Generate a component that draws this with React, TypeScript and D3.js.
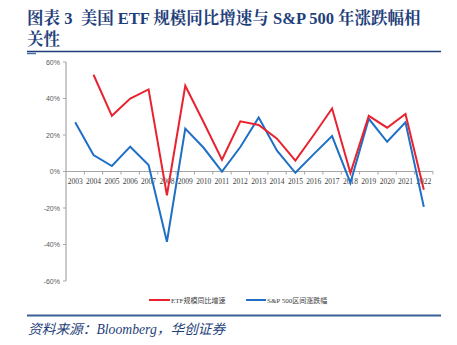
import React from "react";
import * as d3 from "d3";

const years = ["2003","2004","2005","2006","2007","2008","2009","2010","2011","2012","2013","2014","2015","2016","2017","2018","2019","2020","2021","2022"];
const etfGrowth: (number | null)[] = [null, 53, 30.5, 40, 45, -13, 47, 27, 6.5, 27.5, 25.5, 18, 6, 20, 34.5, -0.8, 30.5, 24, 31.5, -10];
const spChange: number[] = [27, 9, 3, 13.6, 3.5, -38.5, 23.5, 13, 0, 13.4, 29.6, 11.4, -0.7, 9.5, 19.4, -6.2, 28.9, 16.3, 26.9, -19.4];
const yTicks = [60, 40, 20, 0, -20, -40, -60];

const W = 457, H = 345;
const left = 66, right = 433, top = 62, bottom = 281;

export default function App() {
  const x = d3.scaleBand<string>().domain(years).range([left, right]);
  const y = d3.scaleLinear().domain([-60, 60]).range([bottom, top]);
  const cx = (d: string) => (x(d) as number) + x.bandwidth() / 2;

  const lineEtf = d3.line<number | null>()
    .defined((d) => d !== null)
    .x((_, i) => cx(years[i]))
    .y((d) => y(d as number));
  const lineSp = d3.line<number>()
    .x((_, i) => cx(years[i]))
    .y((d) => y(d));

  const navy = "#1f3f7a";
  const serifCn = "'Liberation Serif', 'Noto Serif CJK SC', 'Noto Sans CJK SC', serif";

  return (
    <svg width={W} height={H} style={{ position: "absolute", left: 0, top: 0, background: "#fff" }}>
      <text x={27} y={24} fill={navy} fontSize={16.5} fontWeight="bold" fontFamily={serifCn} style={{ whiteSpace: "pre" }}>
        {"图表 3  美国 ETF 规模同比增速与 S&P 500 年涨跌幅相"}
      </text>
      <text x={27} y={45} fill={navy} fontSize={16.5} fontWeight="bold" fontFamily={serifCn}>
        关性
      </text>
      <line x1={27} x2={441} y1={51.5} y2={51.5} stroke={navy} strokeWidth={1.3} />
      <line x1={27} x2={36} y1={53.5} y2={53.5} stroke="#4a6fa8" strokeWidth={1.5} />

      {/* y axis */}
      <line x1={left} x2={left} y1={top} y2={bottom} stroke="#a6a6a6" strokeWidth={1.2} />
      {yTicks.map((t) => (
        <g key={t}>
          <line x1={left - 3} x2={left} y1={y(t)} y2={y(t)} stroke="#a6a6a6" />
          <text x={left - 6} y={y(t) + 2.5} textAnchor="end" fontSize={7} fill="#595959" fontFamily="'Liberation Sans', Arial, sans-serif">
            {t}%
          </text>
        </g>
      ))}

      {/* x axis */}
      <line x1={left} x2={right} y1={y(0)} y2={y(0)} stroke="#a6a6a6" strokeWidth={1.2} />
      {years.map((yr) => (
        <g key={yr}>
          <line x1={(x(yr) as number) + x.bandwidth()} x2={(x(yr) as number) + x.bandwidth()} y1={y(0)} y2={y(0) + 3} stroke="#a6a6a6" />
          <text x={cx(yr)} y={y(0) + 12} textAnchor="middle" fontSize={7.5} fill="#404040" fontFamily="'Liberation Serif', serif">
            {yr}
          </text>
        </g>
      ))}

      <path d={lineSp(spChange) || ""} fill="none" stroke="#1f6fc5" strokeWidth={2} strokeLinejoin="miter" />
      <path d={lineEtf(etfGrowth) || ""} fill="none" stroke="#e8232f" strokeWidth={2} strokeLinejoin="miter" />

      {/* legend */}
      <line x1={149} x2={170} y1={300} y2={300} stroke="#e8232f" strokeWidth={2} />
      <text x={171} y={302.5} fontSize={7} fill="#404040" fontFamily="'Liberation Serif', 'Noto Sans CJK SC', serif">ETF规模同比增速</text>
      <line x1={246} x2={266} y1={300} y2={300} stroke="#1f6fc5" strokeWidth={2} />
      <text x={267} y={302.5} fontSize={7} fill="#404040" fontFamily="'Liberation Serif', 'Noto Sans CJK SC', serif">S&amp;P 500区间涨跌幅</text>

      <line x1={27} x2={441} y1={315.5} y2={315.5} stroke="#3a6096" strokeWidth={1.8} />
      <text x={28} y={334} fontSize={13.7} fontStyle="italic" fill={navy} fontFamily="'Liberation Serif', 'Noto Sans CJK SC', serif">
        资料来源：Bloomberg，华创证券
      </text>
    </svg>
  );
}
